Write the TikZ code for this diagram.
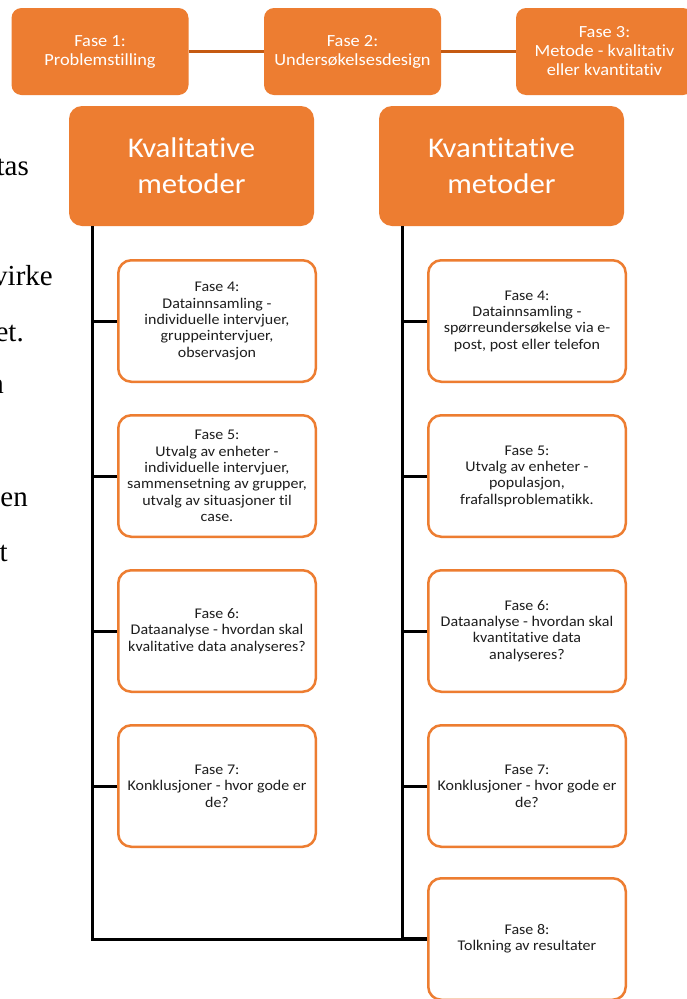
\documentclass[tikz,border=0pt]{standalone}
\usepackage{fontspec}
\setmainfont{Carlito}[FakeStretch=1.08, Ligatures=NoCommon]
\newfontfamily\bodyserif{Liberation Serif}
\definecolor{accent}{HTML}{ED7D31}
\definecolor{accentdark}{HTML}{C55A11}
\definecolor{boxink}{HTML}{1E1E1E}
\tikzset{
  phasebox/.style={rectangle, rounded corners=10pt, fill=accent, text=white,
    minimum width=177pt, minimum height=87pt, inner sep=0pt, align=center,
    font=\fontsize{17}{19}\selectfont},
  methodbox/.style={rectangle, rounded corners=13pt, fill=accent, text=white,
    minimum width=245pt, minimum height=120pt, inner sep=0pt, align=center,
    font=\fontsize{28.5}{36}\selectfont},
  stepbox/.style={rectangle, rounded corners=13pt, draw=accent, line width=2.5pt,
    fill=white, text=boxink, minimum width=197.5pt, minimum height=121.5pt,
    inner sep=0pt, align=center, font=\fontsize{14.8}{16.3}\selectfont},
  link/.style={draw=accentdark, line width=3.5pt},
  trunk/.style={draw=black, line width=3pt},
  branch/.style={draw=black, line width=3pt},
  margintext/.style={anchor=base east, inner sep=0pt, text=black,
    font=\bodyserif\fontsize{29}{29}\selectfont},
}
\begin{document}
\begin{tikzpicture}[x=1pt,y=-1pt]
\useasboundingbox (0,0) rectangle (687,999);
\fill[white] (0,0) rectangle (687,999);
\begin{scope}
\clip (0,0) rectangle (687,999);

% running text of the page, partly hidden behind the chart
\node[margintext] (m1) at (29,175) {tas};
\node[margintext] (m2) at (53,285) {virke};
\node[margintext] (m3) at (24,341) {et.};
\node[margintext] (m4) at (4,393) {n};
\node[margintext] (m5) at (28,506) {en};
\node[margintext] (m6) at (8,561) {t};

% top row of phases
\node[phasebox] (ph1) at (100,51.5) {Fase 1:\\Problemstilling};
\node[phasebox] (ph2) at (352.5,51.5) {Fase 2:\\Undersøkelsesdesign};
\node[phasebox] (ph3) at (604.5,51.5) {Fase 3:\\Metode - kvalitativ\\eller kvantitativ};
\draw[link] (ph1.east) -- (ph2.west);
\draw[link] (ph2.east) -- (ph3.west);

% the two method branches
\node[methodbox] (kval) at (191.5,166) {Kvalitative\\metoder};
\node[methodbox] (kvant) at (501.5,166) {Kvantitative\\metoder};

% qualitative steps
\node[stepbox] (l4) at (217,321) {Fase 4:\\Datainnsamling -\\individuelle intervjuer,\\gruppeintervjuer,\\observasjon};
\node[stepbox] (l5) at (217,476) {Fase 5:\\Utvalg av enheter -\\individuelle intervjuer,\\sammensetning av grupper,\\utvalg av situasjoner til\\case.};
\node[stepbox] (l6) at (217,631) {Fase 6:\\Dataanalyse - hvordan skal\\kvalitative data analyseres?};
\node[stepbox] (l7) at (217,786) {Fase 7:\\Konklusjoner - hvor gode er\\de?};

% quantitative steps
\node[stepbox] (r4) at (527,321) {Fase 4:\\Datainnsamling -\\spørreundersøkelse via e-\\post, post eller telefon};
\node[stepbox] (r5) at (527,476) {Fase 5:\\Utvalg av enheter -\\populasjon,\\frafallsproblematikk.};
\node[stepbox] (r6) at (527,631) {Fase 6:\\Dataanalyse - hvordan skal\\kvantitative data\\analyseres?};
\node[stepbox] (r7) at (527,786) {Fase 7:\\Konklusjoner - hvor gode er\\de?};
\node[stepbox] (r8) at (527,939) {Fase 8:\\Tolkning av resultater};

% trunk lines
\coordinate (ltop) at (92,226);
\coordinate (lbot) at (92,939);
\coordinate (rtop) at (402.5,226);
\coordinate (rbot) at (402.5,939);
\draw[trunk] (ltop) -- (lbot) -- (rbot);
\draw[trunk] (rtop) -- (rbot);
\draw[trunk, line width=4pt] (rbot) -- (r8.west);

% branches to the step boxes
\foreach \s in {l4,l5,l6,l7}
  \draw[branch] (ltop |- \s.west) -- (\s.west);
\foreach \s in {r4,r5,r6,r7}
  \draw[branch] (rtop |- \s.west) -- (\s.west);
\end{scope}
\end{tikzpicture}
\end{document}
